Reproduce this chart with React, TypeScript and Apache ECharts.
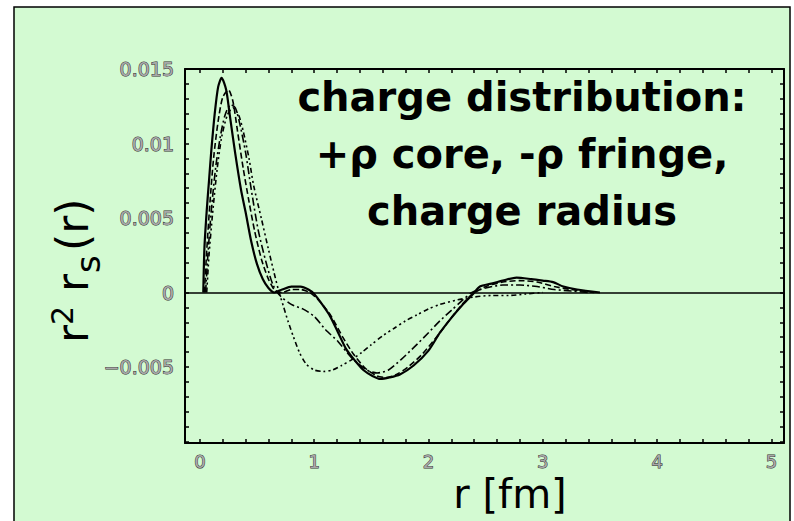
import React, { useEffect, useRef } from "react";
import * as echarts from "echarts";

// ---- data ----
const xTicks = [0, 1, 2, 3, 4, 5];
const xMinorTicks = [0, 0.2, 0.4, 0.6, 0.8, 1, 1.2, 1.4, 1.6, 1.8, 2, 2.2, 2.4, 2.6, 2.8, 3, 3.2, 3.4, 3.6, 3.8, 4, 4.2, 4.4, 4.6, 4.8, 5];
const yTicks = [-0.005, 0, 0.005, 0.01, 0.015];
const yTickLabels = ["\u22120.005", "0", "0.005", "0.01", "0.015"];
const yMinorTicks = [-0.01, -0.009, -0.008, -0.007, -0.006, -0.005, -0.004, -0.003, -0.002, -0.001, 0, 0.001, 0.002, 0.003, 0.004, 0.005, 0.006, 0.007, 0.008, 0.009, 0.01, 0.011, 0.012, 0.013, 0.014, 0.015];

// solid curve
const rSolid = [0.03, 0.04, 0.06, 0.08, 0.1, 0.13, 0.16, 0.19, 0.23, 0.26, 0.31, 0.36, 0.4, 0.45, 0.5, 0.55, 0.6, 0.65, 0.72, 0.8, 0.88, 0.95, 1.0, 1.07, 1.14, 1.21, 1.28, 1.36, 1.43, 1.51, 1.58, 1.66, 1.75, 1.87, 2.0, 2.1, 2.2, 2.3, 2.39, 2.45, 2.55, 2.65, 2.77, 2.9, 3.0, 3.09, 3.18, 3.3, 3.5];
const vSolid = [0, 0.003, 0.0055, 0.0075, 0.0095, 0.012, 0.0138, 0.0144, 0.0136, 0.012, 0.0093, 0.0069, 0.0054, 0.0034, 0.0019, 0.0009, 0.0003, 0.0, 0.0002, 0.0004, 0.0004, 0.0002, -0.0001, -0.0008, -0.0016, -0.0027, -0.0038, -0.0046, -0.0052, -0.0056, -0.0058, -0.0057, -0.0055, -0.0049, -0.0039, -0.0027, -0.0017, -0.0008, -0.0001, 0.0004, 0.0006, 0.0008, 0.001, 0.0009, 0.0008, 0.0007, 0.0004, 0.0002, 0];

// dashed curve
const rDashed = [0.04, 0.06, 0.09, 0.12, 0.16, 0.2, 0.25, 0.29, 0.33, 0.38, 0.43, 0.48, 0.54, 0.6, 0.66, 0.72, 0.8, 0.88, 0.96, 1.05, 1.15, 1.25, 1.35, 1.45, 1.55, 1.63, 1.72, 1.82, 1.95, 2.1, 2.25, 2.37, 2.5, 2.65, 2.8, 2.95, 3.1, 3.25, 3.45];
const vDashed = [0, 0.0028, 0.0062, 0.009, 0.0115, 0.0131, 0.0136, 0.0128, 0.0108, 0.0083, 0.0061, 0.0041, 0.0022, 0.0009, 0.0001, 0.0, 0.0002, 0.0002, 0.0, -0.0006, -0.0016, -0.003, -0.0042, -0.0051, -0.0056, -0.0057, -0.0055, -0.005, -0.0041, -0.0027, -0.0012, -0.0002, 0.0004, 0.0007, 0.0008, 0.0007, 0.0004, 0.0002, 0];

// dash-dot curve
const rDashDot = [0.05, 0.07, 0.1, 0.14, 0.18, 0.22, 0.27, 0.31, 0.35, 0.4, 0.45, 0.51, 0.58, 0.64, 0.7, 0.8, 0.9, 1.0, 1.1, 1.21, 1.33, 1.46, 1.55, 1.65, 1.76, 1.87, 2.0, 2.1, 2.2, 2.3, 2.38, 2.5, 2.65, 2.8, 2.95, 3.1, 3.25, 3.4];
const vDashDot = [0, 0.0025, 0.0055, 0.0085, 0.0105, 0.0119, 0.0126, 0.0124, 0.0113, 0.0094, 0.0069, 0.0042, 0.002, 0.0005, -0.0002, -0.0008, -0.0011, -0.0016, -0.0025, -0.0033, -0.0044, -0.0052, -0.0054, -0.0052, -0.0045, -0.0037, -0.0027, -0.0019, -0.0012, -0.0005, 0.0, 0.0003, 0.0005, 0.0005, 0.0004, 0.0002, 0.0001, 0];

// dash-dot-dot curve
const rDashDotDot = [0.06, 0.08, 0.11, 0.15, 0.19, 0.24, 0.29, 0.34, 0.38, 0.43, 0.47, 0.54, 0.6, 0.65, 0.69, 0.73, 0.77, 0.82, 0.87, 0.93, 1.0, 1.08, 1.16, 1.24, 1.33, 1.42, 1.5, 1.6, 1.7, 1.8, 1.9, 2.0, 2.1, 2.25, 2.4, 2.55, 2.7, 2.85, 3.0];
const vDashDotDot = [0, 0.0025, 0.0052, 0.0082, 0.0104, 0.0119, 0.0124, 0.0119, 0.0108, 0.009, 0.0072, 0.0049, 0.0029, 0.0013, 0.0001, -0.0009, -0.0019, -0.003, -0.004, -0.0048, -0.0052, -0.0053, -0.0052, -0.0049, -0.0045, -0.004, -0.0035, -0.0029, -0.0024, -0.0019, -0.0015, -0.0011, -0.0008, -0.0005, -0.0003, -0.0002, -0.0002, -0.0001, 0];

const annotationLines = ["charge distribution:", "+\u03c1 core, -\u03c1 fringe,", "charge radius"];
const xTitle = "r [fm]";

const zip = (xs: number[], ys: number[]) => xs.map((x, i) => [x, ys[i]]);

const X_MIN = -0.13;
const X_MAX = 5.11;
const Y_MIN = -0.0101;
const Y_MAX = 0.015;

const labelStyle = {
  fontFamily: "DejaVu Sans",
  fontSize: 18,
  color: "#a8a8a8",
  textBorderColor: "#333333",
  textBorderWidth: 1,
};

function makeX(position: "bottom" | "top", showLabel: boolean) {
  return {
    type: "value",
    min: X_MIN,
    max: X_MAX,
    position,
    axisLine: { show: true, onZero: false, lineStyle: { color: "#000", width: 2 } },
    axisTick: { show: true, inside: true, length: 4, customValues: xMinorTicks, lineStyle: { color: "#000", width: 1.5 } },
    minorTick: { show: false },
    splitLine: { show: false },
    axisLabel: showLabel
      ? { show: true, customValues: xTicks, margin: 9, ...labelStyle, formatter: (v: number) => String(Math.round(v)) }
      : { show: false },
  };
}

function makeY(position: "left" | "right", showLabel: boolean) {
  return {
    type: "value",
    min: Y_MIN,
    max: Y_MAX,
    position,
    axisLine: { show: true, onZero: false, lineStyle: { color: "#000", width: 2 } },
    axisTick: { show: true, inside: true, length: 4, customValues: yMinorTicks, lineStyle: { color: "#000", width: 1.5 } },
    minorTick: { show: false },
    splitLine: { show: false },
    axisLabel: showLabel
      ? {
          show: true,
          customValues: yTicks,
          margin: 11,
          ...labelStyle,
          fontSize: 19,
          formatter: (v: number) => {
            const i = yTicks.findIndex((t) => Math.abs(t - v) < 1e-9);
            return i >= 0 ? yTickLabels[i] : "";
          },
        }
      : { show: false },
  };
}

export default function App() {
  const ref = useRef<HTMLDivElement>(null);
  useEffect(() => {
    if (!ref.current) return;
    const chart = echarts.init(ref.current, null, { renderer: "svg" });
    const lineBase = { type: "line", showSymbol: false, symbol: "none", smooth: 0.25, xAxisIndex: 0, yAxisIndex: 0 };
    chart.setOption({
      animation: false,
      backgroundColor: "#ffffff",
      grid: { left: 185, right: 10, top: 69, bottom: 78, containLabel: false },
      xAxis: [makeX("bottom", true), makeX("top", false)],
      yAxis: [makeY("left", true), makeY("right", false)],
      graphic: [
        {
          type: "rect",
          z: -10,
          silent: true,
          shape: { x: 14, y: 7, width: 776, height: 530 },
          style: { fill: "#d3fad2", stroke: "#000", lineWidth: 1.5 },
        },
        {
          type: "text",
          z: 10,
          x: 522,
          y: 68,
          style: {
            text: annotationLines.join("\n"),
            fontFamily: "DejaVu Sans",
            fontWeight: "bold",
            fontSize: 40,
            lineHeight: 57,
            fill: "#000",
            align: "center",
            verticalAlign: "top",
          },
        },
        {
          type: "text",
          z: 10,
          x: 510,
          y: 494,
          style: {
            text: xTitle,
            fontFamily: "DejaVu Sans",
            fontSize: 40,
            fill: "#000",
            align: "center",
            verticalAlign: "middle",
          },
        },
        {
          type: "group",
          x: 87,
          y: 269,
          rotation: Math.PI / 2,
          z: 10,
          children: [
            { type: "text", x: -74, y: -15, style: { text: "r", fontFamily: "DejaVu Sans", fontSize: 44, fill: "#000", align: "left", verticalAlign: "middle" } },
            { type: "text", x: -56, y: -25, style: { text: "2", fontFamily: "DejaVu Sans", fontSize: 30, fill: "#000", align: "left", verticalAlign: "middle" } },
            { type: "text", x: -23, y: -15, style: { text: "r", fontFamily: "DejaVu Sans", fontSize: 44, fill: "#000", align: "left", verticalAlign: "middle" } },
            { type: "text", x: -4, y: 1, style: { text: "s", fontFamily: "DejaVu Sans", fontSize: 34, fill: "#000", align: "left", verticalAlign: "middle" } },
            { type: "text", x: 18, y: -15, style: { text: "(r)", fontFamily: "DejaVu Sans", fontSize: 44, fill: "#000", align: "left", verticalAlign: "middle" } },
          ],
        },
      ],
      series: [
        {
          ...lineBase,
          name: "solid",
          data: zip(rSolid, vSolid),
          lineStyle: { color: "#000", width: 2.2, type: "solid" },
          markLine: {
            silent: true,
            symbol: "none",
            label: { show: false },
            lineStyle: { color: "#000", width: 1.5, type: "solid" },
            data: [{ yAxis: 0 }],
          },
        },
        { ...lineBase, name: "dashed", data: zip(rDashed, vDashed), lineStyle: { color: "#000", width: 1.6, type: [6, 3] } },
        { ...lineBase, name: "dash-dot", data: zip(rDashDot, vDashDot), lineStyle: { color: "#000", width: 1.6, type: [8, 3, 2, 3] } },
        { ...lineBase, name: "dash-dot-dot", data: zip(rDashDotDot, vDashDotDot), lineStyle: { color: "#000", width: 1.6, type: [5, 3, 2, 3, 2, 3] } },
      ],
    });
    return () => chart.dispose();
  }, []);
  return <div ref={ref} style={{ position: "fixed", left: 0, top: 0, width: 794, height: 521 }} />;
}
